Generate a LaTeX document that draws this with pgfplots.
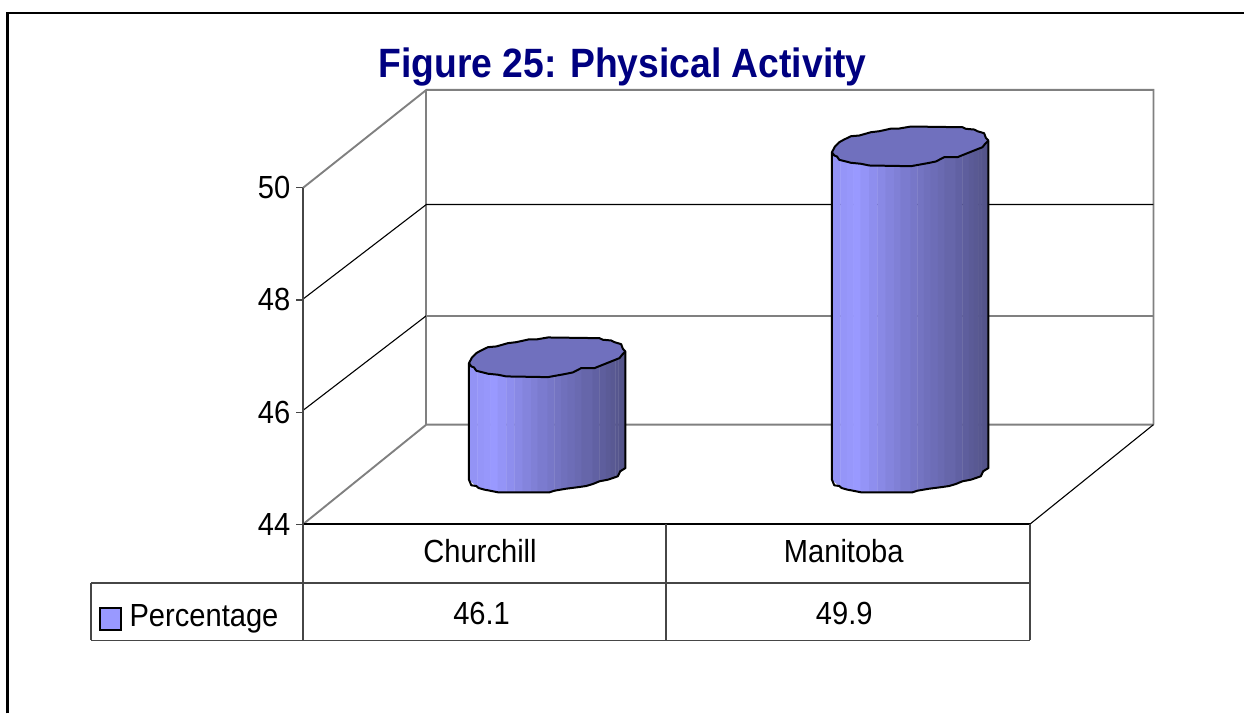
\documentclass[border=0pt]{standalone}
\usepackage{fontspec}
\setmainfont[FakeStretch=0.91]{Liberation Sans}
\usepackage{pgfplots}
\usepackage{pgfplotstable}
\pgfplotsset{compat=1.18}

\definecolor{titleblue}{RGB}{0,0,128}
\definecolor{barlight}{RGB}{153,153,255}
\definecolor{bartop}{RGB}{112,112,190}
\definecolor{wallgray}{RGB}{128,128,128}
\definecolor{tablegray}{RGB}{70,70,70}

% side of a cylinder: bottom rim (t=0), then the same columns at the top (t=1)
\pgfplotstableread{
dx dy t
-78.3 5.7 0
-70 12.8 0
-63.3 15.5 0
-56.7 16.8 0
-49.3 18.3 0
-41 18.3 0
-32.7 18.3 0
-24.3 18.3 0
-16 18.3 0
-9.3 18.3 0
0.7 18.3 0
7.3 16.7 0
14 15.5 0
20.7 14.4 0
28 13.5 0
34.7 12.7 0
45.7 10 0
52.3 7.3 0
59 6 0
64 4.6 0
68.3 3 0
71.3 1 0
74 -3.2 0
76.7 -5 0
78.3 -6 0
-78.3 5.7 1
-70 5.2 1
-63.3 4.7 1
-56.7 4.2 1
-49.3 3.7 1
-41 3.1 1
-32.7 2.4 1
-24.3 1.8 1
-16 1.2 1
-9.3 0.7 1
0.7 -0.1 1
7.3 -0.5 1
14 -1 1
20.7 -1.5 1
28 -2.1 1
34.7 -2.6 1
45.7 -3.4 1
52.3 -3.9 1
59 -4.4 1
64 -4.8 1
68.3 -5.1 1
71.3 -5.3 1
74 -5.5 1
76.7 -5.7 1
78.3 -6 1
}\sidetab

% outline of the side
\pgfplotstableread{
dx dy t
-78.3 5.7 1
-78.3 5.7 0
-76 11.3 0
-71 12 0
-68.7 14 0
-62.7 15.7 0
-59.3 16.3 0
-49.3 18.3 0
2.3 18.3 0
7.3 16.7 0
19 14.7 0
32.3 13 0
39 12 0
45.7 10 0
52.3 7.3 0
60.7 5.7 0
70.7 2.3 0
73 -2.7 0
78.3 -6 0
78.3 -6 1
}\edgetab

% top ellipse, rough facets as in the original
\pgfplotstableread{
dx dy t
-78.3 5.7 1
-75.3 0 1
-71 -4.3 1
-66.7 -6.7 1
-59.3 -10.3 1
-51 -11 1
-39.3 -14.3 1
-31 -15.3 1
-18.7 -18 1
-11 -18 1
0.7 -20 1
52.3 -19.3 1
55.7 -17.7 1
64 -17 1
67.3 -15.3 1
74 -13.3 1
75.7 -8.7 1
78.3 -6 1
75 -2.7 1
72.3 0.7 1
64 4 1
55.7 7.3 1
47.3 10.7 1
34 10.7 1
25.7 15 1
17.3 16.7 1
0.7 19.7 1
-41 19 1
-49.3 17.3 1
-59.3 16.3 1
-64.3 15 1
-71 13.3 1
-73.3 10 1
-76 9 1
}\rimtab

% #1 centre (px), #2 value
\newcommand{\cylinder}[2]{
  \addplot[surf,shader=flat,mesh/cols=25,point meta=\thisrow{dx},
    point meta min=-78.3,point meta max=78.3]
    table[x expr=#1+\thisrow{dx},
      y expr=44.896+0.99*(#2-44)*\thisrow{t}-\thisrow{dy}/56.12] {\sidetab};
  \addplot[black,line width=2pt,line join=round]
    table[x expr=#1+\thisrow{dx},
      y expr=44.896+0.99*(#2-44)*\thisrow{t}-\thisrow{dy}/56.12] {\edgetab};
  \addplot[fill=bartop,draw=black,line width=2pt,line join=round]
    table[x expr=#1+\thisrow{dx},
      y expr=44.896+0.99*(#2-44)*\thisrow{t}-\thisrow{dy}/56.12] {\rimtab} -- cycle;
}

\begin{document}
\begin{tikzpicture}
\begin{axis}[
  scale only axis,
  width=851.2pt, height=434.7pt,
  xmin=303.3, xmax=1154.5,
  ymin=44, ymax=51.746,
  clip=false,
  axis line style={draw=none},
  xtick=\empty,
  ytick={44,46,48,50},
  ytick pos=left,
  tick align=outside,
  major tick length=7pt,
  tick style={tablegray,line width=1.2pt},
  /pgf/number format/assume math mode=true,
  yticklabel style={font=\fontsize{32}{33}\selectfont,inner xsep=5.5pt},
  colormap={cyl}{rgb255=(146,146,243) rgb255=(153,153,255) rgb255=(135,135,226)
    rgb255=(121,121,203) rgb255=(108,108,181) rgb255=(96,96,160) rgb255=(82,82,135)},
  every axis plot/.append style={mark=none},
]
% outer frame
\addplot[black,line width=2.2pt] coordinates {(7.5,40.627)(7.5,53.118)(1245,53.118)};

% walls and floor
\addplot[wallgray,line width=1.9pt] coordinates {(303.3,50)(426.7,51.746)(1154.5,51.746)(1154.5,45.777)};
\addplot[wallgray,line width=1.9pt] coordinates {(426.7,51.746)(426.7,45.777)};
\addplot[wallgray,line width=1.9pt] coordinates {(303.3,44)(426.7,45.777)(1154.5,45.777)};
\addplot[black,line width=1.1pt] coordinates {(303.3,48.016)(426.7,49.702)(1154.5,49.702)};
\addplot[black,line width=1.1pt] coordinates {(303.3,46.031)(426.7,47.719)};
\addplot[wallgray,line width=1.9pt] coordinates {(426.7,47.719)(1154.5,47.719)};
\addplot[black,line width=1.1pt] coordinates {(1030.7,44)(1154.5,45.777)};
\addplot[black,line width=1.6pt] coordinates {(303.3,44)(1030.7,44)};

% data table under the plot
\addplot[tablegray,line width=1.5pt] coordinates {(303.3,50)(303.3,41.928)};
\addplot[tablegray,line width=1.5pt] coordinates {(666.5,44)(666.5,41.928)};
\addplot[tablegray,line width=1.5pt] coordinates {(1030.7,44)(1030.7,41.928)};
\addplot[tablegray,line width=1.5pt] coordinates {(91.3,42.949)(1030.7,42.949)};
\addplot[tablegray,line width=1.5pt] coordinates {(91.3,41.928)(1030.7,41.928)};
\addplot[tablegray,line width=1.5pt] coordinates {(91.3,42.949)(91.3,41.928)};
\addplot[fill=barlight,draw=black,line width=1.6pt] coordinates {(100.3,42.503)(121,42.503)(121,42.118)(100.3,42.118)} -- cycle;

\cylinder{547.7}{46.1}
\cylinder{911}{49.9}

\node[anchor=base,font=\fontsize{41}{43}\selectfont\bfseries,text=titleblue,inner sep=0pt]
  at (axis cs:623,51.965) {Figure 25: Physical Activity};
\node[anchor=base,font=\fontsize{32}{33}\selectfont,inner sep=0pt] at (axis cs:480.5,43.31) {Churchill};
\node[anchor=base,font=\fontsize{32}{33}\selectfont,inner sep=0pt] at (axis cs:844.5,43.31) {Manitoba};
\node[anchor=base,font=\fontsize{32}{33}\selectfont,inner sep=0pt] at (axis cs:482,42.21) {46.1};
\node[anchor=base,font=\fontsize{32}{33}\selectfont,inner sep=0pt] at (axis cs:845,42.21) {49.9};
\node[anchor=base west,font=\fontsize{32}{33}\selectfont,inner sep=0pt] at (axis cs:129.5,42.18) {Percentage};

\path (axis cs:0,40.627) rectangle (axis cs:1245,53.35);
\end{axis}
\end{tikzpicture}
\end{document}
